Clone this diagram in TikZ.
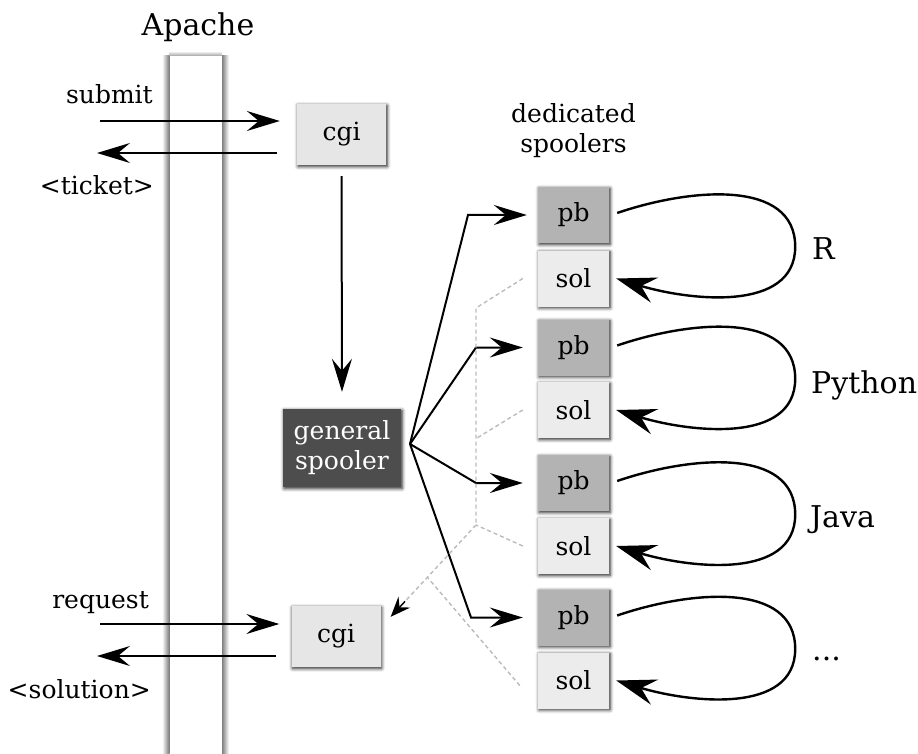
\documentclass[tikz,border=0pt]{standalone}
\usepackage{fontspec}
\setmainfont{DejaVu Serif}
\usetikzlibrary{arrows.meta,shadows.blur,calc}
\definecolor{pbgray}{HTML}{B3B3B3}
\definecolor{solgray}{HTML}{ECECEC}
\definecolor{cgigray}{HTML}{E6E6E6}
\definecolor{gsgray}{HTML}{4D4D4D}
\definecolor{dashgray}{HTML}{BBBBBB}
\definecolor{edgegray}{HTML}{777777}
\begin{document}
\begin{tikzpicture}[x=1pt,y=-1pt,
  shad/.style={blur shadow={shadow xshift=1pt, shadow yshift=-1.4pt, shadow blur radius=3.5pt, shadow opacity=90}},
  box/.style={draw=none, minimum width=71pt, minimum height=56pt, inner sep=0pt, font=\fontsize{25}{30}\selectfont, shad},
  pbbox/.style={box, fill=pbgray},
  solbox/.style={box, fill=solgray},
  cgibox/.style={box, fill=cgigray, minimum width=89pt, minimum height=61pt},
  gsbox/.style={box, fill=gsgray, text=white, minimum width=118pt, minimum height=78pt, align=center, font=\fontsize{25}{30}\selectfont},
  lbl/.style={font=\fontsize{25}{30}\selectfont, inner sep=0pt},
  lang/.style={font=\fontsize{30}{36}\selectfont, inner sep=0pt, anchor=base west},
  arr/.style={line width=2pt, -{Stealth[length=33pt,width=20pt,inset=12pt]}},
  looparr/.style={line width=2.4pt, -{Stealth[length=40pt,width=26pt,inset=14pt]}},
  solpath/.style={draw=dashgray, line width=1.4pt, dash pattern=on 4pt off 3pt},
]
\useasboundingbox (0,0) rectangle (918,754);
% Apache bar with glow on both sides
\shade[left color=white, right color=edgegray] (162,56) rectangle (169.5,760);
\shade[left color=edgegray, right color=white] (221.5,56) rectangle (229,760);
\shade[top color=white, bottom color=edgegray!70] (169.5,51) rectangle (221.5,56);
\node[draw=none, fill=white, minimum width=52pt, minimum height=704pt, inner sep=0pt, anchor=north] (apache) at (195.5,56) {};
\node[font=\fontsize{30}{36}\selectfont, inner sep=0pt, anchor=base] (apachelbl) at (198,36) {Apache};

% boxes
\node[cgibox] (cgi1) at (341.5,134.5) {cgi};
\node[cgibox] (cgi2) at (336,636.5) {cgi};
\node[gsbox] (gs) at (342,448) {general\\spooler};
\node[pbbox] (pb1) at (573.5,215) {pb};
\node[solbox] (sol1) at (573.5,278.5) {sol};
\node[pbbox] (pb2) at (573.5,347.5) {pb};
\node[solbox] (sol2) at (573.5,410) {sol};
\node[pbbox] (pb3) at (573.5,483) {pb};
\node[solbox] (sol3) at (573.5,546) {sol};
\node[pbbox] (pb4) at (573.5,617.5) {pb};
\node[solbox] (sol4) at (573.5,680.5) {sol};

\node[lbl, anchor=base] (ded1) at (573.5,123) {dedicated};
\node[lbl, anchor=base] (ded2) at (573.5,153) {spoolers};

% labels left
\node[lbl, anchor=base east] (submit) at (153,104) {submit};
\node[lbl, anchor=base east] (ticket) at (154,195) {<ticket>};
\node[lbl, anchor=base east] (request) at (149,608) {request};
\node[lbl, anchor=base east] (solution) at (151,698) {<solution>};

% apache arrows
\coordinate (s1) at (100,121);
\coordinate (t1) at (97,153);
\coordinate (r1) at (100,624);
\coordinate (o1) at (97,656);
\draw[arr] (s1) -- ([xshift=-17pt]s1 -| cgi1.west);
\draw[arr] ([xshift=-20pt]t1 -| cgi1.west) -- (t1);
\draw[arr] (r1) -- ([xshift=-12pt]r1 -| cgi2.west);
\draw[arr] ([xshift=-15pt]o1 -| cgi2.west) -- (o1);

% cgi to general spooler
\draw[arr] ([shift={(0,11)}]cgi1.south) -- ([shift={(0,-17)}]gs.north);

% fan
\coordinate (fan) at (410,444);
\coordinate (e1) at (468,0);
\coordinate (e2) at (476,0);
\coordinate (e4) at (471,0);
\draw[arr] (fan) -- (e1 |- pb1.west) -- ([xshift=-11pt]pb1.west);
\draw[arr] (fan) -- (e2 |- pb2.west) -- ([xshift=-15pt]pb2.west);
\draw[arr] (fan) -- (e2 |- pb3.west) -- ([xshift=-15pt]pb3.west);
\draw[arr] (fan) -- (e4 |- pb4.west) -- ([xshift=-15pt]pb4.west);

% dashed solution paths
\coordinate (d1) at (476,308);
\coordinate (d2) at (477,438);
\coordinate (d3) at (476,525);
\coordinate (d4) at (428,578);
\coordinate (dend) at ([shift={(10,11)}]cgi2.north east);
\coordinate (dtip) at ($(dend)!21pt!(d3)$);
\draw[solpath] ([xshift=-15pt]sol1.west) -- (d1) -- (d3);
\draw[solpath] ([xshift=-15pt]sol2.west) -- (d2);
\draw[solpath] ([xshift=-15pt]sol3.west) -- (d3);
\draw[solpath] ([shift={(-18,5)}]sol4.west) -- (d4);
\draw[solpath] (d3) -- (dtip);
\draw[line width=1.4pt, -{Stealth[length=20pt,width=16pt,inset=7pt]}] (dtip) -- (dend);

% loops
\foreach \i in {1,...,4}{
  \draw[looparr] ([shift={(8,-2)}]pb\i.east) .. controls +(73,-25) and +(0,-68) ..
    ([xshift=186pt]$(pb\i.east)!.5!(sol\i.east)$) .. controls +(0,66) and +(73,22) ..
    ([xshift=7pt]sol\i.east);
}
\node[lang] (lr) at (812,259) {R};
\node[lang] (lpy) at (811,393) {Python};
\node[lang] (lja) at (810,527) {Java};
\node[lang] (ldots) at (812,660) {...};
\end{tikzpicture}
\end{document}
